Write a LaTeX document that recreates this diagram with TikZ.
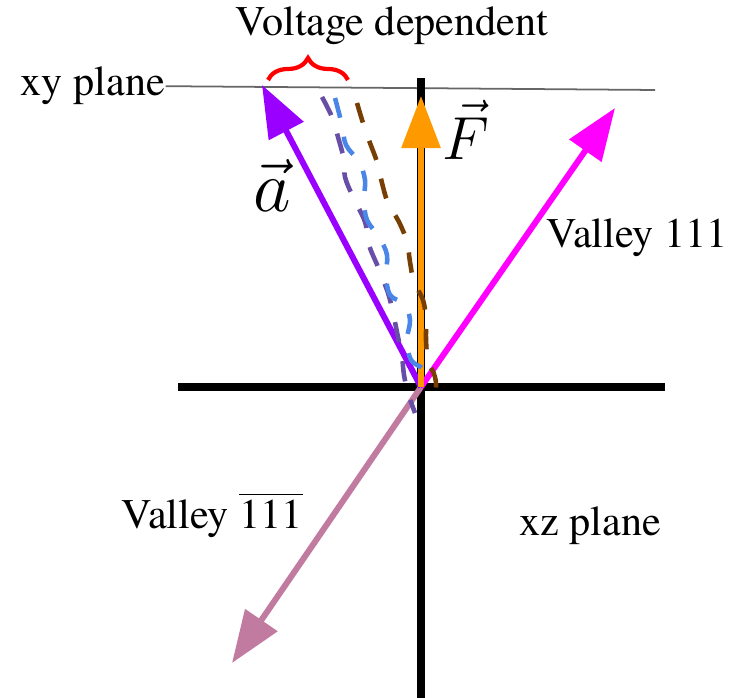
\documentclass[tikz,border=0pt]{standalone}
\usepackage{fontspec}
\setmainfont{TeX Gyre Termes}
\usetikzlibrary{arrows.meta,decorations.pathreplacing}

\definecolor{avec}{HTML}{9900FF}
\definecolor{fvec}{HTML}{FF9900}
\definecolor{valleyup}{HTML}{FF00FF}
\definecolor{valleydown}{HTML}{C27BA0}
\definecolor{pathbrown}{HTML}{783F04}
\definecolor{pathblue}{HTML}{4A86E8}
\definecolor{pathpurple}{HTML}{674EA7}
\definecolor{planegray}{HTML}{666666}

\tikzset{
  axis/.style={line width=2.2pt, black},
  vecarrow/.style={line width=1.7pt, -{Triangle[length=0.52cm,width=0.38cm]}},
  orbit/.style={line width=1.3pt, dash pattern=on 5.8pt off 5.5pt},
  lbl/.style={inner sep=0pt, anchor=base}
}

\begin{document}
\begin{tikzpicture}[x=0.01cm,y=-0.01cm,font=\fontsize{12}{14}\selectfont]
\useasboundingbox (0,0) rectangle (731,698);

% origin and arrow tips
\coordinate (O) at (421,387);
\coordinate (atip) at (262,85);
\coordinate (ftip) at (421,96);
\coordinate (uptip) at (615,108);
\coordinate (downtip) at (232,663);

% planes
\node[lbl, anchor=base west] (xy) at (20,96) {xy plane};
\draw[planegray, line width=0.5pt] (xy.east) -- (655,90);
\draw[axis] (178,387) -- (665,387);
\draw[axis] (421,78) -- (421,698);

\draw[vecarrow, valleydown] (O) -- (downtip);
\draw[vecarrow, valleyup] (O) -- (uptip);
\draw[vecarrow, avec] (O) -- (atip);
\draw[vecarrow, fvec] (O) -- (ftip);

% voltage dependent paths
\draw[orbit, pathpurple] plot[smooth, tension=0.6] coordinates {(322,97) (332,117) (338,137) (344,160) (345,177) (353,197) (365,222) (369,245) (378,267) (388,293) (393,313) (398,337) (402,357) (404,375) (408,393) (415,413)};
\draw[orbit, pathblue] plot[smooth, tension=0.6] coordinates {(335,98) (342,125) (346,145) (359,162) (365,180) (364,200) (367,220) (379,237) (387,255) (386,275) (390,295) (404,304) (410,320) (407,340) (411,360) (424,370) (426,385)};
\draw[orbit, pathbrown] plot[smooth, tension=0.6] coordinates {(357,103) (363,123) (370,143) (377,162) (382,183) (388,203) (399,222) (407,242) (410,262) (414,282) (423,300) (426,320) (426,340) (428,360) (435,377) (435,390) (425,392)};

\draw[red, line width=1.2pt, decorate, decoration={brace, amplitude=0.22cm}] (268,80) -- (348,80);
\node[lbl] (volt) at (392,36) {Voltage dependent};

\node[font=\fontsize{22}{26}\selectfont] (alabel) at (272,186) {$\vec{a}$};
\node[font=\fontsize{19}{22}\selectfont] (flabel) at (466,130) {$\vec{F}$};
\node[lbl] (v111) at (637,248) {Valley 111};
\node[lbl] (vbar) at (212,528) {Valley $\overline{\mbox{1}}\overline{\mbox{11}}$};
\node[lbl] (xz) at (590,535) {xz plane};
\end{tikzpicture}
\end{document}
